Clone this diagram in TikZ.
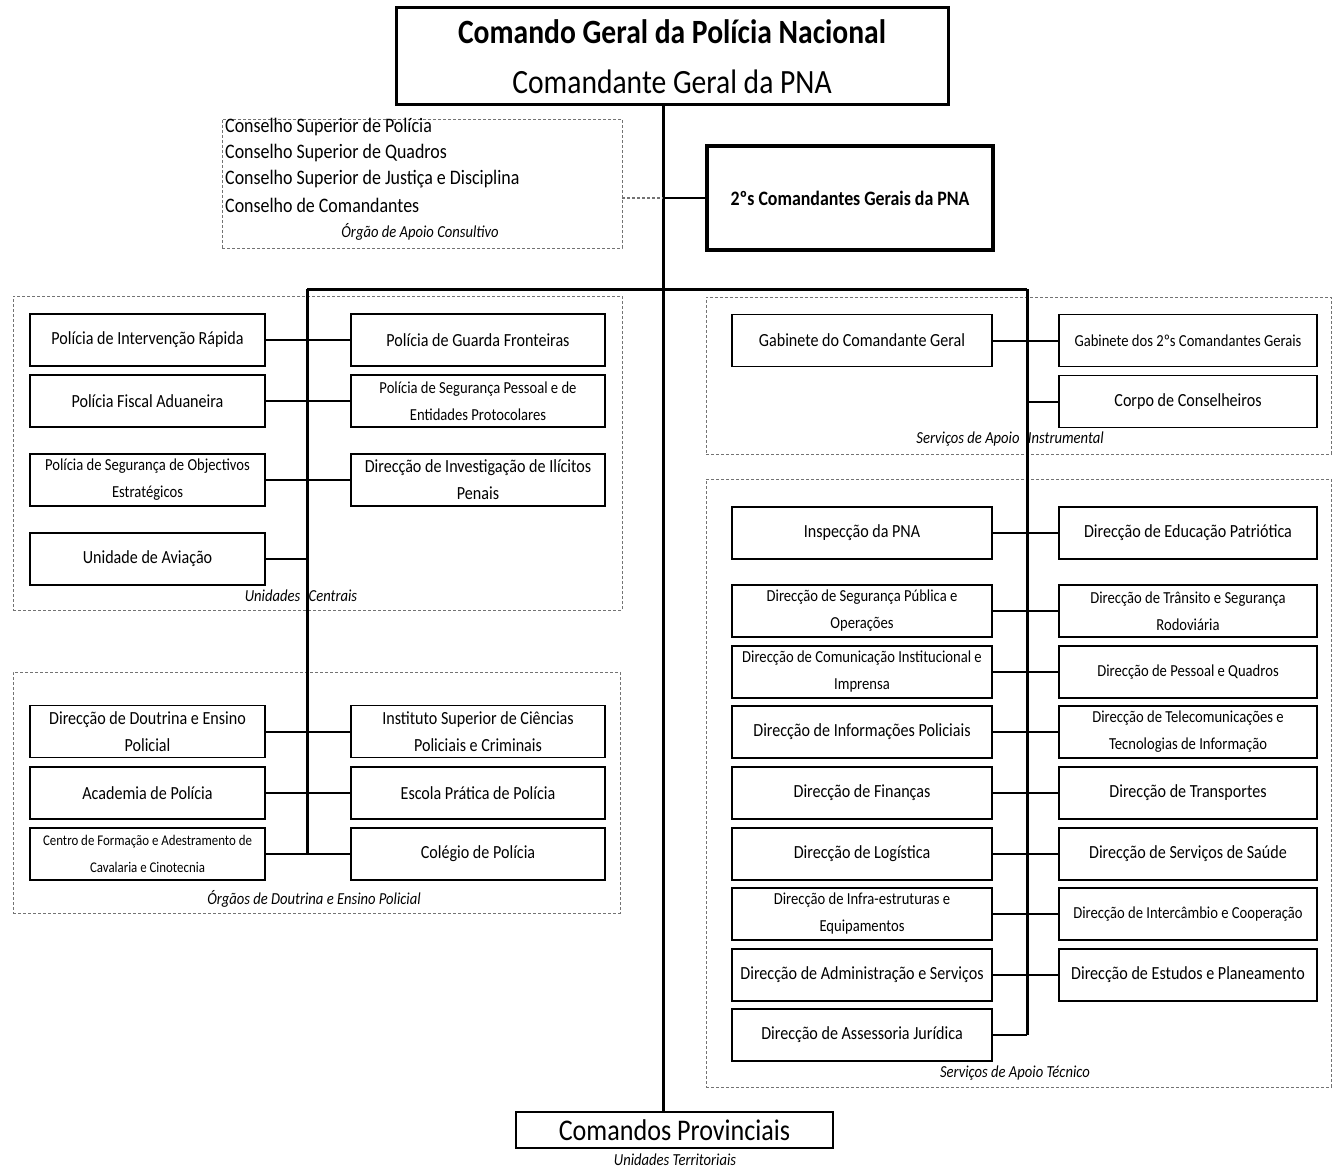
\documentclass[tikz,border=0pt]{standalone}
\usepackage{fontspec}
\setmainfont{Carlito}[FakeStretch=0.87]
\usetikzlibrary{calc}

\begin{document}
\begin{tikzpicture}[x=1pt, y=-1pt,
    unit/.style={draw, line width=1.6pt, fill=white, align=center, inner sep=1pt, minimum height=52pt, font=\fontsize{18.5}{27}\selectfont},
    unitm/.style={unit, font=\fontsize{16.8}{27}\selectfont},
    units/.style={unit, font=\fontsize{14.8}{27}\selectfont},
    colA/.style={minimum width=235pt},
    colB/.style={minimum width=254pt},
    colC/.style={minimum width=260pt},
    colD/.style={minimum width=258pt},
    group/.style={draw=black!55, densely dashed, line width=0.8pt},
    glabel/.style={font=\itshape\fontsize{16.8}{18}\selectfont},
    link/.style={line width=2pt},
    trunk/.style={line width=3pt}]
    \useasboundingbox (0,0) rectangle (1341,1169);

    % groups
    \node[group, minimum width=400pt, minimum height=129pt] (cons) at (422,183.5) {};
    \node[group, minimum width=609pt, minimum height=314pt] (gcen) at (317.5,453) {};
    \node[group, minimum width=607pt, minimum height=241pt] (gdou) at (316.5,792.5) {};
    \node[group, minimum width=625pt, minimum height=157pt] (gins) at (1018.5,375.5) {};
    \node[group, minimum width=625pt, minimum height=608pt] (gtec) at (1018.5,783) {};
    \node[glabel] at (301,596) {Unidades\enspace Centrais};
    \node[glabel] at (314,899) {Órgãos de Doutrina e Ensino Policial};
    \node[glabel] at (1010,439) {Serviços de Apoio\enspace Instrumental};
    \node[glabel] at (1015,1073) {Serviços de Apoio Técnico};

    % top
    \node[draw, line width=3pt, minimum width=552pt, minimum height=97pt, align=center, font=\fontsize{34}{50}\selectfont] (top) at (672,56.5)
        {{\bfseries Comando Geral da Polícia Nacional}\\Comandante Geral da PNA};
    \node[draw, line width=3.5pt, minimum width=286pt, minimum height=104pt, font=\bfseries\fontsize{20.5}{24}\selectfont] (sec) at (850,198) {2ºs Comandantes Gerais da PNA};
    \node[draw, line width=2pt, minimum width=317pt, minimum height=36pt, inner sep=0pt, font=\fontsize{30}{32}\selectfont] (prov) at (674.5,1130) {Comandos Provinciais};
    \node[glabel] at (675,1160) {Unidades Territoriais};

    % consultivo
    \foreach \t [count=\i] in {Conselho Superior de Polícia, Conselho Superior de Quadros, Conselho Superior de Justiça e Disciplina, Conselho de Comandantes}
        \node[anchor=west, inner sep=1pt, font=\fontsize{20.6}{22}\selectfont] (c\i) at (224,{101+26*\i}) {\t};
    \node[glabel] at (420,232) {Órgão de Apoio Consultivo};

    % trunk
    \coordinate (j2) at (663,198);
    \coordinate (lbar) at (307,289);
    \coordinate (rbar) at (1027,289);
    \draw[trunk] ([xshift=-9pt]top.south) -- ([xshift=-11.5pt]prov.north);
    \draw[group, line width=1.2pt] (cons.east |- j2) -- (j2);
    \draw[link] (j2) -- (sec.west);
    \draw[trunk] (lbar) -- (rbar);

    % Unidades Centrais
    \node[unit, colA] (pir) at (147.5,340) {Polícia de Intervenção Rápida};
    \node[unit, colB] (pgf) at (478,340) {Polícia de Guarda Fronteiras};
    \node[unit, colA] (pfa) at (147.5,401) {Polícia Fiscal Aduaneira};
    \node[unitm, colB] (pspe) at (478,401) {Polícia de Segurança Pessoal e de\\Entidades Protocolares};
    \node[unitm, colA] (psoe) at (147.5,480) {Polícia de Segurança de Objectivos\\Estratégicos};
    \node[unit, colB] (diip) at (478,480) {Direcção de Investigação de Ilícitos\\Penais};
    \node[unit, colA] (uav) at (147.5,559) {Unidade de Aviação};

    % Doutrina e Ensino
    \node[unit, colA] (ddep) at (147.5,731.5) {Direcção de Doutrina e Ensino\\Policial};
    \node[unit, colB] (iscpc) at (478,731.5) {Instituto Superior de Ciências\\Policiais e Criminais};
    \node[unit, colA] (acad) at (147.5,793) {Academia de Polícia};
    \node[unit, colB] (epp) at (478,793) {Escola Prática de Polícia};
    \node[units, colA] (cfac) at (147.5,854) {Centro de Formação e Adestramento de\\Cavalaria e Cinotecnia};
    \node[unit, colB] (colp) at (478,854) {Colégio de Polícia};

    % Apoio Instrumental
    \node[unit, colC] (gcg) at (862,340.5) {Gabinete do Comandante Geral};
    \node[unitm, colD] (g2cg) at (1188,340.5) {Gabinete dos 2ºs Comandantes Gerais};
    \node[unit, colD] (cc) at (1188,401.5) {Corpo de Conselheiros};

    % Apoio Tecnico
    \node[unit, colC] (insp) at (862,533) {Inspecção da PNA};
    \node[unit, colD] (dedp) at (1188,533) {Direcção de Educação Patriótica};
    \node[unitm, colC] (dspo) at (862,611) {Direcção de Segurança Pública e\\Operações};
    \node[unitm, colD] (dtsr) at (1188,611) {Direcção de Trânsito e Segurança\\Rodoviária};
    \node[unitm, colC] (dcii) at (862,672) {Direcção de Comunicação Institucional e\\Imprensa};
    \node[unitm, colD] (dpq) at (1188,672) {Direcção de Pessoal e Quadros};
    \node[unit, colC] (dinf) at (862,732) {Direcção de Informações Policiais};
    \node[unitm, colD] (dtti) at (1188,732) {Direcção de Telecomunicações e\\Tecnologias de Informação};
    \node[unit, colC] (dfin) at (862,793) {Direcção de Finanças};
    \node[unit, colD] (dtra) at (1188,793) {Direcção de Transportes};
    \node[unit, colC] (dlog) at (862,854) {Direcção de Logística};
    \node[unit, colD] (dss) at (1188,854) {Direcção de Serviços de Saúde};
    \node[unitm, colC] (die) at (862,914) {Direcção de Infra-estruturas e\\Equipamentos};
    \node[unitm, colD] (dic) at (1188,914) {Direcção de Intercâmbio e Cooperação};
    \node[unit, colC] (das) at (862,975) {Direcção de Administração e Serviços};
    \node[unit, colD] (dept) at (1188,975) {Direcção de Estudos e Planeamento};
    \node[unit, colC] (daj) at (862,1035) {Direcção de Assessoria Jurídica};

    % branches
    \draw[trunk] (lbar) -- (lbar |- cfac.east);
    \draw[trunk] (rbar) -- (rbar |- daj.east);
    \foreach \a/\b in {pir/pgf, pfa/pspe, psoe/diip, ddep/iscpc, acad/epp, cfac/colp,
        gcg/g2cg, insp/dedp, dspo/dtsr, dcii/dpq, dinf/dtti, dfin/dtra, dlog/dss, die/dic, das/dept}
        \draw[link] (\a.east) -- (\b.west);
    \draw[link] (uav.east) -- (uav.east -| lbar);
    \draw[link] (cc.west -| rbar) -- (cc.west);
    \draw[link] (daj.east) -- (daj.east -| rbar);
\end{tikzpicture}
\end{document}
